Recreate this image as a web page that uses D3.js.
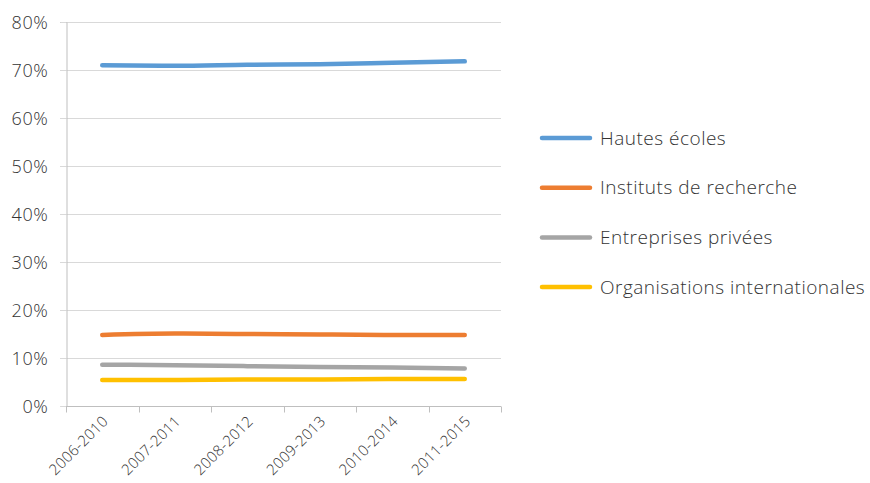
<!DOCTYPE html>
<html>
<head>
<meta charset="utf-8">
<script src="https://cdn.jsdelivr.net/npm/d3@7"></script>
<style>
  body { margin: 0; background: #fff; }
  text { font-family: "Open Sans", "Segoe UI", sans-serif; font-weight: 300; fill: #333; }
</style>
</head>
<body>
<svg id="chart" width="870" height="483"></svg>
<script>
// periods on the x axis
const periods = ['2006-2010', '2007-2011', '2008-2012', '2009-2013', '2010-2014', '2011-2015'];

// shares in percent
const hautesEcoles = [71.0, 70.9, 71.1, 71.2, 71.5, 71.8];
const instituts = [14.8, 15.1, 15.0, 14.9, 14.8, 14.8];
const entreprises = [8.6, 8.5, 8.3, 8.1, 8.0, 7.8];
const organisations = [5.4, 5.4, 5.5, 5.5, 5.6, 5.6];

const seriesNames = ['Hautes écoles', 'Instituts de recherche', 'Entreprises privées', 'Organisations internationales'];
const yTicks = [0, 10, 20, 30, 40, 50, 60, 70, 80];

const series = [
  { name: seriesNames[0], values: hautesEcoles, color: '#5B9BD5' },
  { name: seriesNames[1], values: instituts, color: '#ED7D31' },
  { name: seriesNames[2], values: entreprises, color: '#A5A5A5' },
  { name: seriesNames[3], values: organisations, color: '#FFC000' },
];

const svg = d3.select('#chart');
const margin = { left: 66, right: 501, top: 22, bottom: 406 };

const x = d3.scaleBand().domain(periods).range([margin.left, margin.right]);
const y = d3.scaleLinear().domain([0, 80]).range([margin.bottom, margin.top]);

// horizontal gridlines
svg.append('g')
  .selectAll('line')
  .data(yTicks.filter(t => t > 0))
  .enter()
  .append('line')
  .attr('x1', margin.left - 6)
  .attr('x2', margin.right)
  .attr('y1', d => y(d) + 0.5)
  .attr('y2', d => y(d) + 0.5)
  .style('stroke', '#D9D9D9')
  .attr('stroke-width', 1);

// y axis
const yAxis = svg.append('g')
  .attr('transform', `translate(${margin.left + 0.5},0)`)
  .call(d3.axisLeft(y).tickValues(yTicks).tickFormat(d => d + '%').tickSize(6).tickPadding(12));
yAxis.select('.domain').style('stroke', '#BFBFBF');
yAxis.selectAll('.tick line').style('stroke', '#D9D9D9');
yAxis.selectAll('.tick text')
  .style('font-size', '18px')
  .style('letter-spacing', '0.6px')
  .attr('dy', '0.35em');

// x axis, ticks at the category boundaries
const boundaries = periods.map(p => x(p)).concat([margin.right]);
const xAxisG = svg.append('g').attr('transform', `translate(0,${margin.bottom + 0.5})`);
xAxisG.append('line')
  .attr('x1', margin.left)
  .attr('x2', margin.right)
  .style('stroke', '#BFBFBF');
xAxisG.selectAll('line.tick')
  .data(boundaries)
  .enter()
  .append('line')
  .attr('class', 'tick')
  .attr('x1', d => Math.round(d) + 0.5)
  .attr('x2', d => Math.round(d) + 0.5)
  .attr('y1', 0)
  .attr('y2', 6)
  .style('stroke', '#BFBFBF');
xAxisG.selectAll('text')
  .data(periods)
  .enter()
  .append('text')
  .attr('transform', d => `translate(${x(d) + x.bandwidth() / 2 + 3},${12}) rotate(-45)`)
  .attr('text-anchor', 'end')
  .attr('dy', '0.35em')
  .style('font-size', '15px')
  .style('letter-spacing', '0.3px')
  .text(d => d);

// lines
const line = d3.line()
  .x((d, i) => x(periods[i]) + x.bandwidth() / 2)
  .y(d => y(d))
  .curve(d3.curveMonotoneX);

svg.append('g')
  .selectAll('path')
  .data(series)
  .enter()
  .append('path')
  .attr('d', d => line(d.values))
  .attr('fill', 'none')
  .attr('stroke', d => d.color)
  .attr('stroke-width', 4.5)
  .attr('stroke-linecap', 'round');

// legend
const legend = svg.append('g')
  .selectAll('g')
  .data(series)
  .enter()
  .append('g')
  .attr('transform', (d, i) => `translate(542,${138 + i * 49.7})`);

legend.append('line')
  .attr('x1', 0)
  .attr('x2', 48)
  .attr('stroke', d => d.color)
  .attr('stroke-width', 4.5)
  .attr('stroke-linecap', 'round');

legend.append('text')
  .attr('x', 58)
  .attr('dy', '0.35em')
  .style('font-size', '19px')
  .style('letter-spacing', '0.5px')
  .text(d => d.name);
</script>
</body>
</html>
